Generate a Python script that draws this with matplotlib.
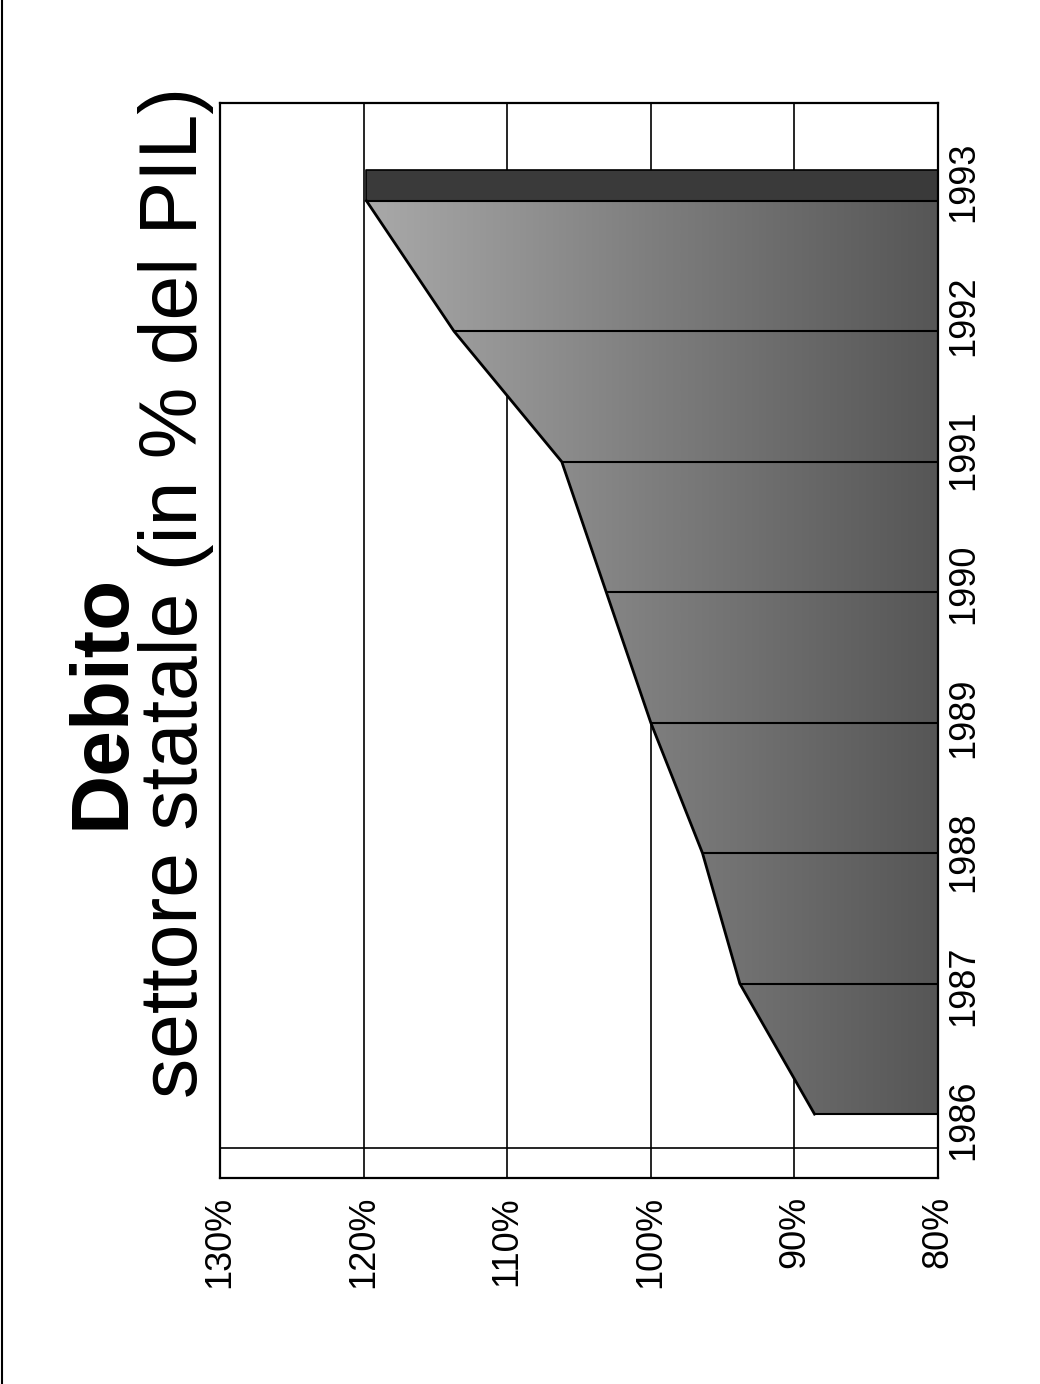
import numpy as np
import matplotlib.pyplot as plt
from matplotlib.patches import Polygon
from matplotlib.lines import Line2D

# Debito del settore statale, in % del PIL
anni = [1986, 1987, 1988, 1989, 1990, 1991, 1992, 1993]
debito = [88.6, 93.8, 96.4, 100.0, 103.1, 106.2, 113.7, 119.8]
percentuali = [130, 120, 110, 100, 90, 80]
etichette_pct = ["130%", "120%", "110%", "100%", "90%", "80%"]

plt.rcParams['font.family'] = ['Liberation Sans', 'DejaVu Sans']

fig = plt.figure(figsize=(10.4, 13.84), dpi=100)
ax = fig.add_axes([220 / 1040, 206 / 1384, 718 / 1040, 1075 / 1384])

base = 80
profondita = 0.24

# value gridlines sit behind the area
for p in percentuali[1:-1]:
    ax.axvline(p, color='black', lw=1.2, zorder=1)
ax.axhline(anni[0] - 0.26, color='black', lw=1.2, zorder=1)

# area with a grey gradient, clipped to the data polygon
vertici = list(zip(debito, anni)) + [(base, anni[-1]), (base, anni[0])]
area = Polygon(vertici, closed=True, facecolor='none', edgecolor='none', zorder=2)
ax.add_patch(area)
gradiente = np.linspace(0, 1, 256).reshape(1, -1)
grigi = plt.matplotlib.colors.LinearSegmentedColormap.from_list(
    'grigi', ['#565656', '#7e7e7e', '#a9a9a9'])
im = ax.imshow(gradiente, cmap=grigi, aspect='auto', zorder=2,
               extent=(base, max(debito), anni[0], anni[-1]), interpolation='bilinear')
im.set_clip_path(area)

# end face of the 3D area
ax.fill_betweenx([anni[-1], anni[-1] + profondita], base, debito[-1],
                 facecolor='#3a3a3a', edgecolor='black', lw=1.2, zorder=3)

# seams between the yearly facets
ax.hlines(anni, debito, base, color='black', lw=1.5, zorder=3)
ax.plot(debito, anni, color='black', lw=2, zorder=4)

ax.set_xlim(130, 80)
ax.set_ylim(1985.51, 1993.75)

ax.set_xticks(percentuali)
ax.set_xticklabels(etichette_pct, rotation=90, fontsize=26)
ax.tick_params(axis='x', length=0, pad=13)

# category labels sit on the front edge, slightly wider spaced than the facets
posizioni = [anni[0] - 0.045 + (a - anni[0]) * 1.027 for a in anni]
ax.yaxis.tick_right()
ax.set_yticks(posizioni)
ax.set_yticklabels([str(a) for a in anni], rotation=90, fontsize=26, va='center',
                   family=['Liberation Sans Narrow', 'Liberation Sans'])
ax.tick_params(axis='y', length=0, pad=6)

for s in ax.spines.values():
    s.set_linewidth(1.6)
    s.set_zorder(5)

fig.text(103 / 1040, 1 - 701 / 1384, "Debito", rotation=90, fontsize=59,
         fontweight='bold', ha='center', va='center')
fig.text(176 / 1040, 1 - 592 / 1384, "settore statale (in % del PIL)", rotation=90,
         fontsize=58, ha='center', va='center')

# edge of the scanned page
fig.add_artist(Line2D([0.0015, 0.0015], [0, 1], color='black', lw=1.5))

fig.savefig("out.png", dpi=100)
